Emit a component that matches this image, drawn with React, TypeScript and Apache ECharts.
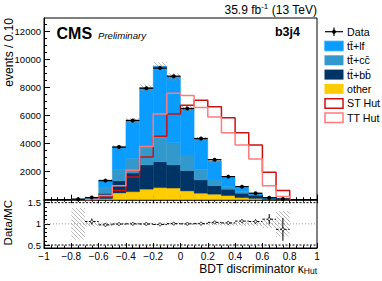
import React, { useEffect, useRef } from "react";
import * as echarts from "echarts";

// ---- data (bins of width 0.1 from -1 to 1) ----
const BIN_LO = [-1.0, -0.9, -0.8, -0.7, -0.6, -0.5, -0.4, -0.3, -0.2, -0.1, 0.0, 0.1, 0.2, 0.3, 0.4, 0.5, 0.6, 0.7, 0.8, 0.9];
const BIN_WIDTH = 0.1;
const DATA = [0, 0, 35, 150, 1360, 3750, 5650, 7950, 9380, 8800, 6500, 4360, 2850, 1645, 930, 460, 140, 50, 0, 0];
const OTHER = [0, 0, 5, 20, 70, 480, 570, 750, 860, 830, 626, 462, 391, 292, 146, 90, 15, 5, 0, 0];
const TT_BB = [0, 0, 10, 40, 380, 870, 1330, 1730, 1852, 1647, 1445, 947, 613, 455, 316, 230, 55, 25, 0, 0];
const TT_CC = [0, 0, 10, 30, 450, 830, 1050, 1300, 1736, 1587, 1117, 761, 405, 185, 115, 60, 15, 6, 0, 0];
const TT_LF = [0, 0, 15, 52, 493, 1589, 2700, 4194, 5075, 4692, 3312, 2168, 1345, 678, 296, 56, 41, 21, 0, 0];
const MC_REL_ERR = [0, 0, 0.37, 0.06, 0.035, 0.03, 0.03, 0.03, 0.03, 0.03, 0.03, 0.03, 0.035, 0.04, 0.045, 0.05, 0.1, 0.3, 0, 0];
const ST_HUT = [0, 0, 0, 30, 200, 650, 1620, 3050, 4520, 6110, 6740, 7080, 6630, 5840, 4780, 3900, 1960, 650, 0, 0];
const TT_HUT = [0, 0, 0, 40, 300, 1000, 2100, 3800, 6100, 7580, 7430, 6580, 5900, 4780, 3900, 2900, 1000, 220, 0, 0];
const RATIO = [null, null, null, 1.055, 0.976, 0.995, 1.0, 0.997, 0.985, 1.005, 1.0, 1.005, 1.035, 1.022, 1.065, 1.055, 1.11, 0.87, null, null];
const RATIO_ERR = [0, 0, 0, 0.07, 0.03, 0.02, 0.015, 0.012, 0.012, 0.012, 0.015, 0.018, 0.02, 0.03, 0.035, 0.05, 0.12, 0.27, 0, 0];

const Y_LABELS = [2000, 4000, 6000, 8000, 10000, 12000];
const Y_MAJOR = [0, 2000, 4000, 6000, 8000, 10000, 12000];
const Y_MINOR = [500, 1000, 1500, 2500, 3000, 3500, 4500, 5000, 5500, 6500, 7000, 7500, 8500, 9000, 9500, 10500, 11000, 11500, 12500];
const R_LABELS = [0.5, 1, 1.5];
const R_MINOR = [0.6, 0.7, 0.8, 0.9, 1.1, 1.2, 1.3, 1.4];
const REF_LINES = [1.5, 1, 0.5];

const FONT = "Liberation Sans";
const C_LF = "#0a9cff";
const C_CC = "#3399cc";
const C_BB = "#003366";
const C_OTHER = "#ffcc00";
const C_ST = "#cc1111";
const C_TT = "#ff7b7b";

function hatchPattern(): any {
  const c = document.createElement("canvas");
  c.width = 4;
  c.height = 4;
  const g = c.getContext("2d")!;
  g.strokeStyle = "rgba(150,150,150,0.75)";
  g.lineWidth = 0.9;
  g.beginPath();
  g.moveTo(0, 0); g.lineTo(4, 4);
  g.moveTo(-2, 2); g.lineTo(2, 6);
  g.moveTo(2, -2); g.lineTo(6, 2);
  g.stroke();
  return { image: c, repeat: "repeat" };
}

function stackLayer(vals: number[], bases: number[]) {
  const out: number[][] = [];
  vals.forEach((v, i) => {
    if (v > 0) out.push([BIN_LO[i], BIN_LO[i] + BIN_WIDTH, bases[i], bases[i] + v]);
  });
  return out;
}

function stepPoints(vals: number[]) {
  let first = -1, last = -1;
  vals.forEach((v, i) => { if (v > 0) { if (first < 0) first = i; last = i; } });
  const pts: number[][] = [[BIN_LO[first], 0]];
  for (let k = first; k <= last; k++) pts.push([BIN_LO[k], vals[k]]);
  pts.push([BIN_LO[last] + BIN_WIDTH, 0]);
  return pts;
}

export default function App() {
  const ref = useRef<HTMLDivElement>(null);
  useEffect(() => {
    if (!ref.current) return;
    const chart = echarts.init(ref.current, undefined, { renderer: "svg" });
    const hatch = hatchPattern();

    const zeros = BIN_LO.map(() => 0);
    const b1 = OTHER.map((v) => v);
    const b2 = b1.map((v, i) => v + TT_BB[i]);
    const b3 = b2.map((v, i) => v + TT_CC[i]);
    const total = b3.map((v, i) => v + TT_LF[i]);

    const rectItem = (color: any, stroke?: string) => (params: any, api: any) => {
      const p0 = api.coord([api.value(0), api.value(3)]);
      const p1 = api.coord([api.value(1), api.value(2)]);
      return {
        type: "rect",
        shape: { x: p0[0], y: p0[1], width: p1[0] - p0[0], height: p1[1] - p0[1] },
        style: { fill: color, stroke: stroke || "none", lineWidth: stroke ? 0.4 : 0 },
      };
    };

    const layerSeries = (vals: number[], bases: number[], color: string) => ({
      type: "custom",
      xAxisIndex: 0,
      yAxisIndex: 0,
      z: 2,
      renderItem: rectItem(color, color),
      encode: { x: [0, 1], y: [2, 3] },
      data: stackLayer(vals, bases),
    });

    const mcBand = total
      .map((t, i) => (t > 0 ? [BIN_LO[i], BIN_LO[i] + BIN_WIDTH, t * (1 - MC_REL_ERR[i]), t * (1 + MC_REL_ERR[i])] : null))
      .filter((d) => d !== null);

    const ratioBand = MC_REL_ERR
      .map((e, i) => (e > 0 ? [BIN_LO[i], BIN_LO[i] + BIN_WIDTH, 1 - e, 1 + e] : null))
      .filter((d) => d !== null);

    const dataPts = DATA.map((v, i) => [BIN_LO[i], BIN_LO[i] + BIN_WIDTH, v]).filter((d, i) => DATA[i] > 0);
    const ratioPts = RATIO.map((r, i) => (r === null ? null : [BIN_LO[i], BIN_LO[i] + BIN_WIDTH, r, RATIO_ERR[i]])).filter((d) => d !== null);

    const xFmt = (v: number) => {
      const s = String(Math.round(v * 10) / 10);
      return s.replace("-", "\u2212");
    };

    const yAxisBase = (grid: number, min: number, max: number) => ({
      gridIndex: grid, type: "value", min, max, position: "left",
      splitLine: { show: false },
    });

    const option: any = {
      animation: false,
      textStyle: { fontFamily: FONT },
      grid: [
        { left: 44, right: 65, top: 18, height: 181.7, show: true, borderColor: "#000", borderWidth: 1, backgroundColor: "transparent" },
        { left: 44, right: 65, top: 199.7, height: 48.3, show: true, borderColor: "#000", borderWidth: 1, backgroundColor: "transparent" },
      ],
      xAxis: [
        {
          gridIndex: 0, type: "value", min: -1, max: 1, interval: 0.2,
          axisLine: { show: true, onZero: false, lineStyle: { color: "#000", width: 1.6 } },
          axisTick: { show: true, inside: true, length: 5, lineStyle: { color: "#000" } },
          minorTick: { show: true, splitNumber: 4, length: 2.5, lineStyle: { color: "#000" } },
          axisLabel: { show: false },
          splitLine: { show: false },
        },
        {
          gridIndex: 1, type: "value", min: -1, max: 1, interval: 0.2, position: "bottom",
          axisLine: { show: true, onZero: false, lineStyle: { color: "#000", width: 1 } },
          axisTick: { show: true, inside: true, length: 5, lineStyle: { color: "#000" } },
          minorTick: { show: true, splitNumber: 4, length: 2.5, lineStyle: { color: "#000" } },
          axisLabel: { show: true, color: "#000", fontSize: 10, margin: 3, formatter: xFmt, showMinLabel: true, showMaxLabel: true },
          splitLine: { show: false },
        },
        {
          gridIndex: 1, type: "value", min: -1, max: 1, interval: 0.2, position: "top",
          axisLine: { show: false, onZero: false },
          axisTick: { show: true, inside: true, length: 3.5, lineStyle: { color: "#000" } },
          minorTick: { show: true, splitNumber: 4, length: 2, lineStyle: { color: "#000" } },
          axisLabel: { show: false },
          splitLine: { show: false },
        },
      ],
      yAxis: [
        {
          ...yAxisBase(0, 0, 12950),
          axisLine: { show: true, onZero: false, lineStyle: { color: "#000", width: 1 } },
          axisTick: { show: true, inside: true, length: 6, customValues: Y_MAJOR, lineStyle: { color: "#000" } },
          axisLabel: { show: true, customValues: Y_LABELS, color: "#000", fontSize: 9.5, margin: 3, formatter: (v: number) => String(v) },
        },
        {
          ...yAxisBase(0, 0, 12950),
          axisLine: { show: false, onZero: false },
          axisTick: { show: true, inside: true, length: 3, lineStyle: { color: "#000" }, customValues: Y_MINOR },
          axisLabel: { show: false },
        },
        {
          ...yAxisBase(1, 0.43, 1.57),
          axisLine: { show: true, onZero: false, lineStyle: { color: "#000", width: 1 } },
          axisTick: { show: true, inside: true, length: 6, customValues: R_LABELS, lineStyle: { color: "#000" } },
          axisLabel: { show: true, customValues: R_LABELS, color: "#000", fontSize: 9.5, margin: 3, formatter: (v: number) => String(v) },
        },
        {
          ...yAxisBase(1, 0.43, 1.57),
          axisLine: { show: false, onZero: false },
          axisTick: { show: true, inside: true, length: 3, customValues: R_MINOR, lineStyle: { color: "#000" } },
          axisLabel: { show: false },
        },
      ],
      series: [
        layerSeries(OTHER, zeros, C_OTHER),
        layerSeries(TT_BB, b1, C_BB),
        layerSeries(TT_CC, b2, C_CC),
        layerSeries(TT_LF, b3, C_LF),
        {
          type: "custom", xAxisIndex: 0, yAxisIndex: 0, z: 3,
          renderItem: rectItem(hatch),
          encode: { x: [0, 1], y: [2, 3] },
          data: mcBand,
        },
        {
          type: "line", xAxisIndex: 0, yAxisIndex: 0, z: 4, step: "end", symbol: "none",
          lineStyle: { color: C_ST, width: 1.5 },
          data: stepPoints(ST_HUT),
        },
        {
          type: "line", xAxisIndex: 0, yAxisIndex: 0, z: 4, step: "end", symbol: "none",
          lineStyle: { color: C_TT, width: 1.5 },
          data: stepPoints(TT_HUT),
        },
        {
          type: "custom", xAxisIndex: 0, yAxisIndex: 0, z: 5,
          encode: { x: [0, 1], y: 2 },
          data: dataPts,
          renderItem: (params: any, api: any) => {
            const pl = api.coord([api.value(0), api.value(2)]);
            const pr = api.coord([api.value(1), api.value(2)]);
            const cx = (pl[0] + pr[0]) / 2;
            return {
              type: "group",
              children: [
                { type: "line", shape: { x1: pl[0], y1: pl[1], x2: pr[0], y2: pr[1] }, style: { stroke: "#000", lineWidth: 1.3 } },
                { type: "circle", shape: { cx, cy: pl[1], r: 2 }, style: { fill: "#000" } },
              ],
            };
          },
        },
        // ratio panel
        {
          type: "custom", xAxisIndex: 1, yAxisIndex: 2, z: 2,
          renderItem: rectItem(hatch),
          encode: { x: [0, 1], y: [2, 3] },
          data: ratioBand,
        },
        {
          type: "custom", xAxisIndex: 1, yAxisIndex: 2, z: 3,
          data: REF_LINES.map((v) => [v]),
          encode: { y: 0 },
          renderItem: (params: any, api: any) => {
            const v = api.value(0);
            const a = api.coord([-1, v]);
            const b = api.coord([1, v]);
            const isOne = v === 1;
            return {
              type: "line",
              shape: { x1: a[0], y1: a[1], x2: b[0], y2: b[1] },
              style: { stroke: isOne ? "#999" : "#000", lineWidth: 1, lineDash: isOne ? [1, 2] : [2, 1.5] },
            };
          },
        },
        {
          type: "custom", xAxisIndex: 1, yAxisIndex: 2, z: 5,
          encode: { x: [0, 1], y: 2 },
          data: ratioPts,
          renderItem: (params: any, api: any) => {
            const pl = api.coord([api.value(0), api.value(2)]);
            const pr = api.coord([api.value(1), api.value(2)]);
            const e = api.value(3);
            const cx = (pl[0] + pr[0]) / 2;
            const pt = api.coord([0, api.value(2) + e]);
            const pb = api.coord([0, api.value(2) - e]);
            const r = 1.4;
            return {
              type: "group",
              children: [
                { type: "line", shape: { x1: pl[0], y1: pl[1], x2: cx - r, y2: pl[1] }, style: { stroke: "#000", lineWidth: 1, lineDash: [2.5, 1.5] } },
                { type: "line", shape: { x1: cx + r, y1: pl[1], x2: pr[0], y2: pr[1] }, style: { stroke: "#000", lineWidth: 1, lineDash: [2.5, 1.5] } },
                { type: "line", shape: { x1: cx, y1: pt[1], x2: cx, y2: pb[1] }, style: { stroke: "#000", lineWidth: 1 } },
                { type: "circle", shape: { cx, cy: pl[1], r }, style: { fill: "#fff", stroke: "#000", lineWidth: 0.8 } },
              ],
            };
          },
        },
      ],
      graphic: [
        { type: "text", x: 9, y: 18, rotation: Math.PI / 2, style: { text: "events / 0.10", fontFamily: FONT, fontSize: 12, fill: "#000", align: "right", verticalAlign: "middle" } },
        { type: "text", x: 7.5, y: 200, rotation: Math.PI / 2, style: { text: "Data/MC", fontFamily: FONT, fontSize: 11.5, fill: "#000", align: "right", verticalAlign: "middle" } },
        {
          type: "text", x: 317, y: 268.5,
          style: {
            text: "{a|BDT discriminator \u03ba}{b|Hut}", align: "right", verticalAlign: "middle", fill: "#000",
            rich: {
              a: { fontFamily: FONT, fontSize: 12, fill: "#000", lineHeight: 14, verticalAlign: "middle" },
              b: { fontFamily: FONT, fontSize: 8.5, fill: "#000", lineHeight: 14, verticalAlign: "bottom" },
            },
          },
        },
        {
          type: "text", x: 317, y: 9.5,
          style: {
            text: "{a|35.9 fb}{s|-1}{a| (13 TeV)}", align: "right", verticalAlign: "middle", fill: "#000",
            rich: {
              a: { fontFamily: FONT, fontSize: 12, fill: "#000", lineHeight: 14, verticalAlign: "middle" },
              s: { fontFamily: FONT, fontSize: 8, fill: "#000", lineHeight: 14, verticalAlign: "top" },
            },
          },
        },
        { type: "text", x: 56.5, y: 33.5, style: { text: "CMS", fontFamily: FONT, fontWeight: "bold", fontSize: 16, fill: "#000", verticalAlign: "middle" } },
        { type: "text", x: 98, y: 35, style: { text: "Preliminary", fontFamily: FONT, fontStyle: "italic", fontSize: 9.6, fill: "#000", verticalAlign: "middle" } },
        { type: "text", x: 300, y: 32, style: { text: "b3j4", fontFamily: FONT, fontWeight: "bold", fontSize: 12.5, fill: "#000", align: "right", verticalAlign: "middle" } },
        // legend
        { type: "line", shape: { x1: 325, y1: 31.7, x2: 343, y2: 31.7 }, style: { stroke: "#000", lineWidth: 1.2 } },
        { type: "line", shape: { x1: 334, y1: 27.5, x2: 334, y2: 36 }, style: { stroke: "#000", lineWidth: 1.2 } },
        { type: "circle", shape: { cx: 334, cy: 31.7, r: 2 }, style: { fill: "#000" } },
        { type: "text", x: 347, y: 31.7, style: { text: "Data", fontFamily: FONT, fontSize: 10.7, fill: "#000", verticalAlign: "middle" } },
        { type: "rect", shape: { x: 324.5, y: 41, width: 19, height: 10 }, style: { fill: C_LF, stroke: "#5cbcff", lineWidth: 0.8 } },
        { type: "text", x: 347, y: 46, style: { text: "tt\u0304+lf", fontFamily: FONT, fontSize: 10.7, fill: "#000", verticalAlign: "middle" } },
        { type: "rect", shape: { x: 324.5, y: 55.3, width: 19, height: 10 }, style: { fill: C_CC } },
        { type: "text", x: 347, y: 60.3, style: { text: "tt\u0304+cc\u0304", fontFamily: FONT, fontSize: 10.7, fill: "#000", verticalAlign: "middle" } },
        { type: "rect", shape: { x: 324.5, y: 69.6, width: 19, height: 10 }, style: { fill: C_BB } },
        { type: "text", x: 347, y: 74.6, style: { text: "tt\u0304+bb\u0304", fontFamily: FONT, fontSize: 10.7, fill: "#000", verticalAlign: "middle" } },
        { type: "rect", shape: { x: 324.5, y: 83.9, width: 19, height: 10 }, style: { fill: C_OTHER } },
        { type: "text", x: 347, y: 88.9, style: { text: "other", fontFamily: FONT, fontSize: 10.7, fill: "#000", verticalAlign: "middle" } },
        { type: "rect", shape: { x: 325, y: 98.7, width: 18, height: 9.5 }, style: { fill: "#fff", stroke: C_ST, lineWidth: 1.5 } },
        { type: "text", x: 347, y: 103.3, style: { text: "ST Hut", fontFamily: FONT, fontSize: 10.7, fill: "#000", verticalAlign: "middle" } },
        { type: "rect", shape: { x: 325, y: 113, width: 18, height: 9.5 }, style: { fill: "#fff", stroke: C_TT, lineWidth: 1.5 } },
        { type: "text", x: 347, y: 117.7, style: { text: "TT Hut", fontFamily: FONT, fontSize: 10.7, fill: "#000", verticalAlign: "middle" } },
      ],
    };

    chart.setOption(option);
    return () => chart.dispose();
  }, []);

  return <div ref={ref} style={{ width: 382, height: 281, position: "absolute", left: 0, top: 0 }} />;
}
